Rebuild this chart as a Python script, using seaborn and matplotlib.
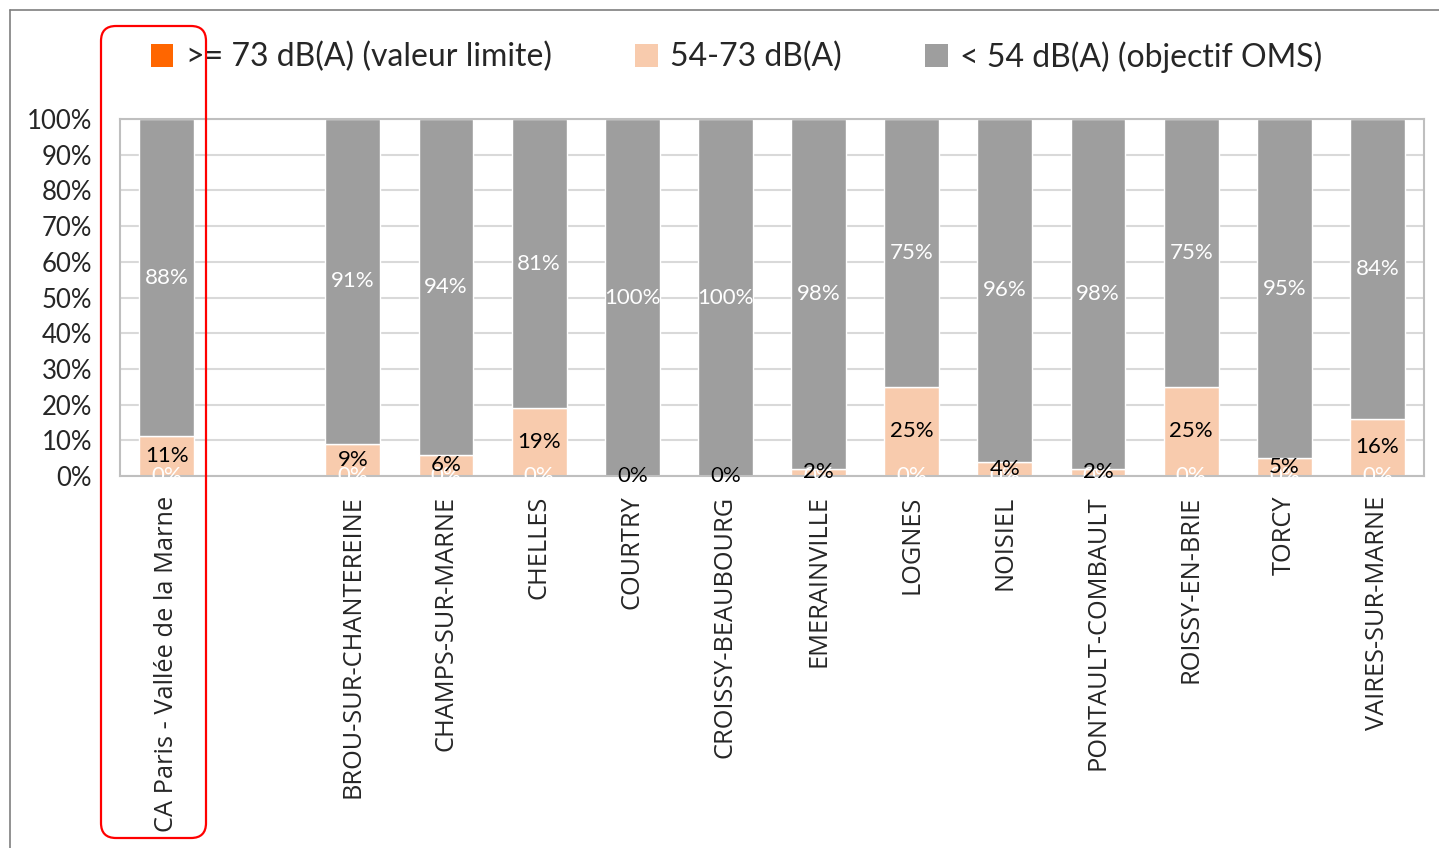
import matplotlib
matplotlib.use("Agg")
import matplotlib.pyplot as plt
from matplotlib.patches import Patch, FancyBboxPatch
from matplotlib.lines import Line2D
import numpy as np
import pandas as pd
import seaborn as sns

# Data (percent of population exposed)
communes = ["CA Paris - Vallée de la Marne", "", "BROU-SUR-CHANTEREINE", "CHAMPS-SUR-MARNE",
            "CHELLES", "COURTRY", "CROISSY-BEAUBOURG", "EMERAINVILLE", "LOGNES", "NOISIEL",
            "PONTAULT-COMBAULT", "ROISSY-EN-BRIE", "TORCY", "VAIRES-SUR-MARNE"]
communes_data = [c for c in communes if c]
high = [0, 0, 0, 0, 0, 0, 0, 0, 0, 0, 0, 0, 0]          # >= 73 dB(A)
mid = [11, 9, 6, 19, 0, 0, 2, 25, 4, 2, 25, 5, 16]        # 54-73 dB(A)
low = [88, 91, 94, 81, 100, 100, 98, 75, 96, 98, 75, 95, 84]  # < 54 dB(A)

series_names = [">= 73 dB(A) (valeur limite)", "54-73 dB(A)", "< 54 dB(A) (objectif OMS)"]
colors = ["#FF6600", "#F8CBAD", "#9E9E9E"]

sns.set_theme(style="white")
plt.rcParams["font.family"] = ["Lato", "DejaVu Sans"]

df = pd.DataFrame({"commune": communes_data, "high": high, "mid": mid, "low": low})
total = df[["high", "mid", "low"]].sum(axis=1)
for col in ["high", "mid", "low"]:
    df[col + "_pct"] = df[col] / total * 100

fig = plt.figure(figsize=(14.39, 8.48), dpi=100)
ax = fig.add_axes([120 / 1439, 1 - 476 / 848, (1424 - 120) / 1439, (476 - 119) / 848])

bottom = np.zeros(len(df))
for col, color in zip(["high", "mid", "low"], colors):
    sns.barplot(data=df, x="commune", y=col + "_pct", order=communes, color=color,
                width=0.59, bottom=bottom, ax=ax, saturation=1, zorder=2, errorbar=None)
    bottom = bottom + df[col + "_pct"].values

# data labels
pos = {c: i for i, c in enumerate(communes)}
for _, r in df.iterrows():
    x = pos[r["commune"]]
    ax.text(x, 0, f"{r['high']:.0f}%", ha="center", va="center", color="white",
            fontsize=16, zorder=3)
    ax.text(x, r["high_pct"] + r["mid_pct"] / 2, f"{r['mid']:.0f}%", ha="center",
            va="center", color="black", fontsize=16, zorder=4)
    ax.text(x, r["high_pct"] + r["mid_pct"] + r["low_pct"] / 2, f"{r['low']:.0f}%",
            ha="center", va="center", color="white", fontsize=16, zorder=4)

ax.set_xlim(-0.5, len(communes) - 0.5)
ax.set_ylim(0, 100)
ax.set_yticks(np.arange(0, 101, 10))
ax.set_yticklabels([f"{v}%" for v in range(0, 101, 10)], fontsize=18.5)
ax.yaxis.grid(True, color="#D9D9D9", linewidth=1.5, zorder=0)
ax.set_axisbelow(True)
ax.set_xlabel("")
ax.set_ylabel("")
ax.tick_params(axis="y", length=0, pad=20)
ax.set_xticks(range(len(communes)))
ax.set_xticklabels(communes, rotation=90, ha="center", va="top", fontsize=18.3,
                   family=["Open Sans", "DejaVu Sans"])
ax.tick_params(axis="x", length=0, pad=14)
for sp in ax.spines.values():
    sp.set_visible(True)
    sp.set_color("#BFBFBF")
    sp.set_linewidth(1.5)

# legend
handles = [Patch(facecolor=c, edgecolor="none") for c in colors]
fig.legend(handles, series_names, loc="center", bbox_to_anchor=(0.512, 0.933), ncol=3,
           frameon=False, fontsize=23, handlelength=0.7, handleheight=0.7,
           handletextpad=0.4, columnspacing=2.6)

# outer chart frame (top and left edges)
fig.add_artist(Line2D([10 / 1439, 1], [1 - 10 / 848, 1 - 10 / 848], color="#7F7F7F", lw=1.2))
fig.add_artist(Line2D([10 / 1439, 10 / 1439], [0, 1 - 10 / 848], color="#7F7F7F", lw=1.2))

# red highlight box around the first bar
box = FancyBboxPatch((1.01, 0.10), 1.05, 8.12, boxstyle="round,pad=0,rounding_size=0.15",
                     transform=fig.dpi_scale_trans, fill=False, edgecolor="#FF0000",
                     linewidth=1.6, zorder=10)
fig.add_artist(box)

fig.savefig("out.png", dpi=100)
